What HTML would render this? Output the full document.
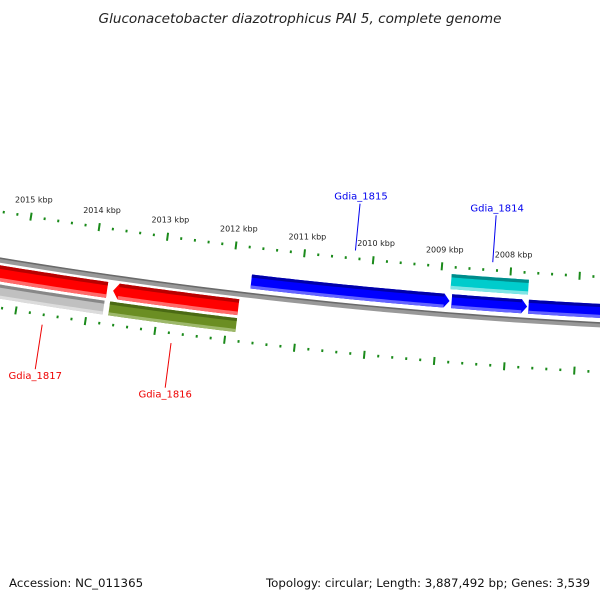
<!DOCTYPE html>
<html><head><meta charset="utf-8"><style>
html,body{margin:0;padding:0;background:#fff}
svg{display:block}
text{font-family:"DejaVu Sans","Liberation Sans",sans-serif}
</style></head><body>
<svg id="map" width="600" height="600" viewBox="0 0 600 600" xmlns="http://www.w3.org/2000/svg">
<rect width="600" height="600" fill="#fff"/>
<text x="300" y="23" text-anchor="middle" font-size="13.6" font-style="italic" fill="#222">Gluconacetobacter diazotrophicus PAI 5, complete genome</text>
<text x="9" y="587" font-size="11.8" fill="#111">Accession: NC_011365</text>
<text x="590" y="587" text-anchor="end" font-size="11.8" fill="#111">Topology: circular; Length: 3,887,492 bp; Genes: 3,539</text>
<g id="ticks"></g>
<g id="backbone"></g>
<g id="genes"></g>
<g id="labels"></g>
</svg>
<script>
// data (kbp)
const tickLabels = [2015, 2014, 2013, 2012, 2011, 2010, 2009, 2008];
const geneNames = ["Gdia_1817", "Gdia_1817_cds", "Gdia_1816", "Gdia_1816_cds", "Gdia_1815", "Gdia_1814", "Gdia_1814_cds", "Gdia_1813"];
const geneStart = [2016.5, 2016.5, 2013.67, 2013.69, 2011.72, 2008.82, 2008.85, 2007.71];
const geneEnd   = [2013.757, 2013.77, 2011.86, 2011.86, 2008.85, 2007.73, 2007.73, 2005.0];
const geneTrack = ["rev", "rna", "rev", "rna", "fwd", "fwd", "cds", "fwd"];
const labelGenes = ["Gdia_1815", "Gdia_1814", "Gdia_1817", "Gdia_1816"];
const labelKbp = [2010.27, 2008.27, 2014.6, 2012.75];

const NS = "http://www.w3.org/2000/svg";
const CX = 876, CY = -5049, R0 = 5380;
const A0 = -0.1203, K = 0.01294;
function ang(kbp){ return A0 - (kbp - 2012) * K; }
function pt(kbp, r){ const a = ang(kbp); return [CX + r*Math.sin(a), CY + r*Math.cos(a)]; }
function mk(tag, attrs, parent){ const e = document.createElementNS(NS, tag); for (const k in attrs) e.setAttribute(k, attrs[k]); parent.appendChild(e); return e; }
function arcPath(k1, k2, r){ const n = 40; let s = []; for (let i=0;i<=n;i++){ const p = pt(k1 + (k2-k1)*i/n, r); s.push(p[0].toFixed(2)+","+p[1].toFixed(2)); } return s; }

// backbone
const bb = document.getElementById('backbone');
let b1 = mk('polyline', {points: arcPath(2017, 2004, R0+1).join(' '), fill:'none', stroke:'#999', 'stroke-width':5}, bb);


let b2 = mk('polyline', {points: arcPath(2017, 2004, R0-1).join(' '), fill:'none', stroke:'#6a6a6a', 'stroke-width':1.6}, bb);



// ticks
const tg = document.getElementById('ticks');
const ringR = [5333, 5428];
for (let ri=0; ri<2; ri++){
  const r = ringR[ri];
  for (let i = 0; i <= 65; i++){
    const kb = 2004 + i*0.2;
    const major = Math.abs(kb - Math.round(kb)) < 0.01;
    const h = major ? 4 : 1.3;
    const p1 = pt(kb, r - h), p2 = pt(kb, r + h);
    const l = mk('line', {x1:p1[0], y1:p1[1], x2:p2[0], y2:p2[1], stroke:'#1a8a1a', 'stroke-width':2}, tg);
    
    
  }
}
tickLabels.forEach(function(kb){
  const p = pt(kb, ringR[0]);
  const t = mk('text', {x:p[0]-16, y:p[1]-14, 'font-size':8, fill:'#222'}, tg);
  t.textContent = kb + " kbp";
  
  
});

// genes
const styles = {
  fwd: {r1:5360, r2:5374, main:'#0000ff', dark:'#0000a8', light:'#6464ff', arrow:-1},
  cds: {r1:5340, r2:5355, main:'#00cccc', dark:'#008b8b', light:'#7fe5e5', arrow:0},
  rev: {r1:5386, r2:5402, main:'#ff0000', dark:'#b80000', light:'#ff6a6a', arrow:1},
  rna: {r1:5405, r2:5419, main:'#c0c0c0', dark:'#888', light:'#dcdcdc', arrow:0}
};
const gg = document.getElementById('genes');
for (let i=0;i<geneNames.length;i++){
  const st = Object.assign({}, styles[geneTrack[i]]);
  if (geneTrack[i]==='rna' && geneNames[i].indexOf('1816')>=0){ st.main='#6b8e23'; st.dark='#4b6a14'; st.light='#9db86a'; }
  const s = geneStart[i], e = geneEnd[i];
  const head = 0.08;
  const rm = (st.r1+st.r2)/2;
  const g = mk('g', {}, gg);
  
  
  function band(ra, rb, fill){
    let a, b, pts;
    if (st.arrow === -1){
      a = arcPath(s, e+head, ra); b = arcPath(s, e+head, rb).reverse();
      const tip = pt(e, rm);
      pts = a.concat([tip[0]+','+tip[1]]).concat(b);
    } else if (st.arrow === 1){
      a = arcPath(s-head, e, ra); b = arcPath(s-head, e, rb).reverse();
      const tip = pt(s, rm);
      pts = [tip[0]+','+tip[1]].concat(a).concat(b);
    } else {
      pts = arcPath(s, e, ra).concat(arcPath(s, e, rb).reverse());
    }
    return mk('polygon', {points: pts.join(' '), fill: fill}, g);
  }
  band(st.r1, st.r2, st.main);
  const h = st.r2 - st.r1;
  const ks = st.arrow===1 ? s-head : s, ke = st.arrow===-1 ? e+head : e;
  mk('polygon', {points: arcPath(ks,ke,st.r1).concat(arcPath(ks,ke,st.r1+h*0.22).reverse()).join(' '), fill: st.dark}, g);
  mk('polygon', {points: arcPath(ks,ke,st.r2-h*0.22).concat(arcPath(ks,ke,st.r2).reverse()).join(' '), fill: st.light}, g);
}

// gene labels
const lg = document.getElementById('labels');
for (let i=0;i<labelGenes.length;i++){
  const top = i < 2;
  const col = top ? '#0000ee' : '#ee0000';
  let p1, p2, tx, ty;
  if (top){ p1 = pt(labelKbp[i], 5333 - 8); p2 = pt(labelKbp[i], 5333 - 55); tx = p2[0]+1; ty = p2[1]-4; }
  else { p1 = pt(labelKbp[i], 5428 + 10); p2 = pt(labelKbp[i], 5428 + 55); tx = p2[0]; ty = p2[1]+10; }
  const l = mk('line', {x1:p1[0], y1:p1[1], x2:p2[0], y2:p2[1], stroke:col, 'stroke-width':1}, lg);
  
  
  const t = mk('text', {x:tx, y:ty, 'font-size':10, fill:col, 'text-anchor':'middle'}, lg);
  t.textContent = labelGenes[i];
  
  
}
</script>
</body></html>
